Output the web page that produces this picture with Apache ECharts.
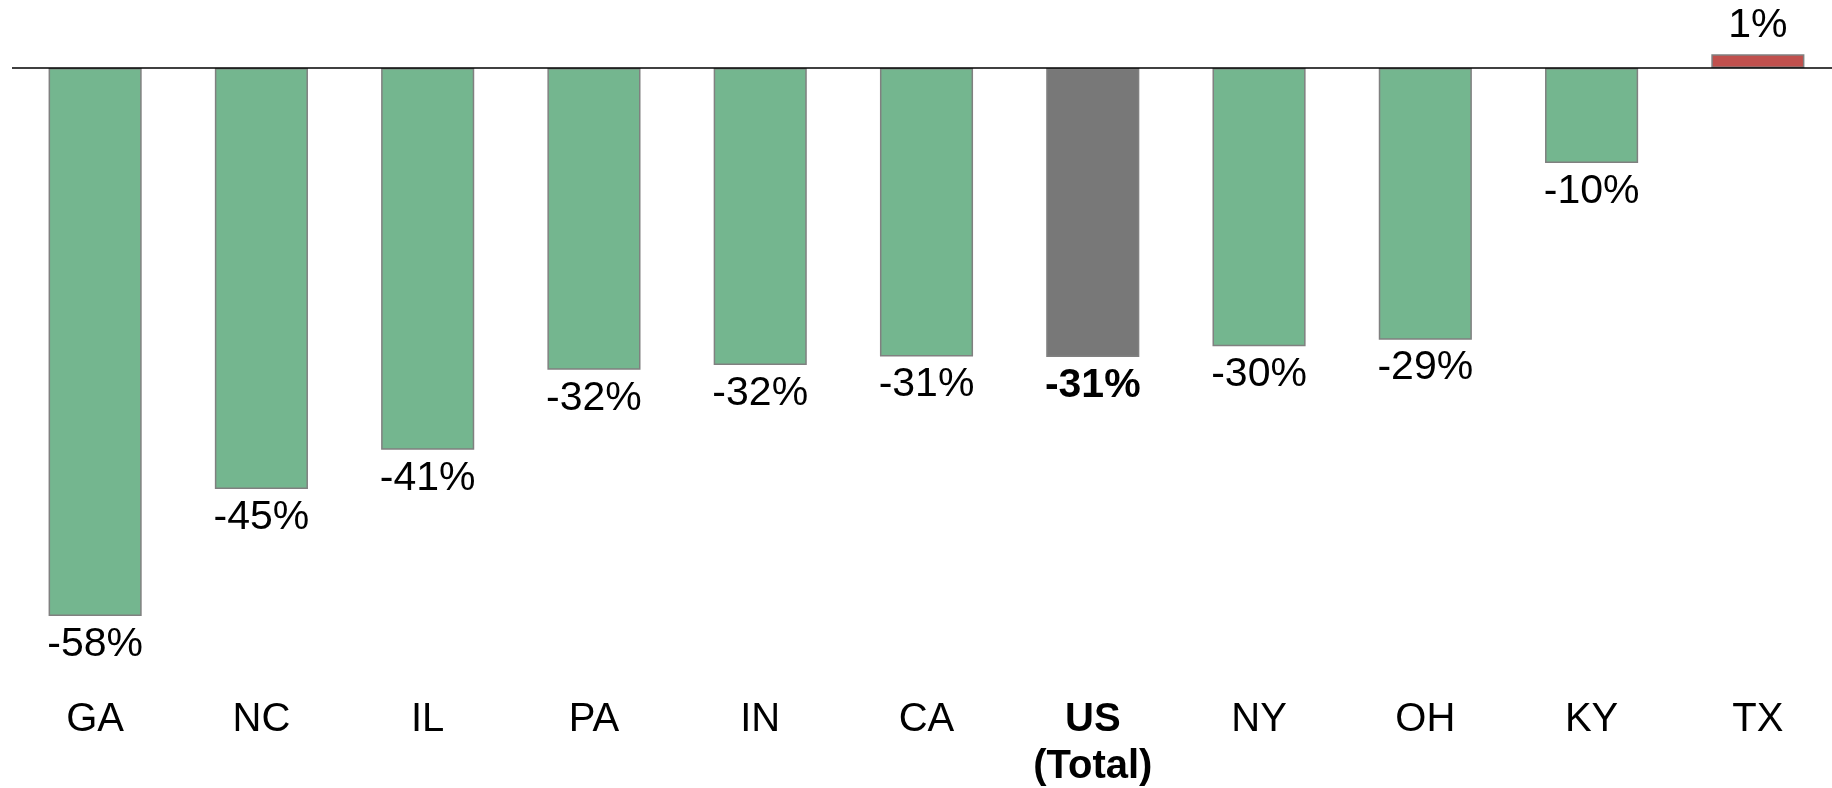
<!DOCTYPE html>
<html>
<head>
<meta charset="utf-8">
<script src="https://cdn.jsdelivr.net/npm/echarts@6/dist/echarts.min.js"></script>
<style>
  html, body { margin: 0; padding: 0; background: #fff; }
  #chart { width: 1832px; height: 788px; }
</style>
</head>
<body>
<div id="chart"></div>
<script>
// categories, left to right
const states = ["GA", "NC", "IL", "PA", "IN", "CA", "US\n(Total)", "NY", "OH", "KY", "TX"];
// change in %
const changes = [-58.2, -44.7, -40.55, -32.05, -31.55, -30.65, -30.7, -29.55, -28.85, -10.1, 1.45];
const totalIndex = 6;

const chart = echarts.init(document.getElementById("chart"));

const fontFamily = "'Liberation Sans', Arial, sans-serif";

// bar colours: green for declines, red for growth, grey for the US total
const barData = changes.map((v, i) => {
  let color = v < 0 ? "#74B68F" : "#C0504D";
  if (i === totalIndex) color = "#787878";
  return {
    value: v,
    itemStyle: { color: color },
    label: {
      position: v < 0 ? "bottom" : "top",
      fontWeight: i === totalIndex ? "bold" : "normal"
    }
  };
});

chart.setOption({
  animation: false,
  // last band runs a few px past the right edge, so don't let echarts squeeze the grid
  grid: { left: 12, top: 2, right: -9, height: 631, outerBoundsMode: "none" },
  xAxis: {
    type: "category",
    data: states.map((s, i) => i === totalIndex
      ? { value: s, textStyle: { fontWeight: "bold" } }
      : s),
    axisLine: { show: false },
    axisTick: { show: false },
    axisLabel: {
      interval: 0,
      margin: 63,
      fontSize: 40,
      lineHeight: 47,
      color: "#000",
      fontFamily: fontFamily
    }
  },
  yAxis: {
    type: "value",
    min: -60,
    max: 7,
    show: false,
    splitLine: { show: false }
  },
  series: [
    {
      type: "bar",
      data: barData,
      barWidth: "56%",
      itemStyle: { borderColor: "#808080", borderWidth: 1.5 },
      label: {
        show: true,
        distance: 8,
        fontSize: 41,
        color: "#000",
        fontFamily: fontFamily,
        formatter: (p) => Math.round(p.value) + "%"
      },
      markLine: {
        silent: true,
        symbol: "none",
        label: { show: false },
        lineStyle: { color: "#000", width: 1.5, type: "solid" },
        data: [{ yAxis: 0 }]
      }
    }
  ]
});
</script>
</body>
</html>
